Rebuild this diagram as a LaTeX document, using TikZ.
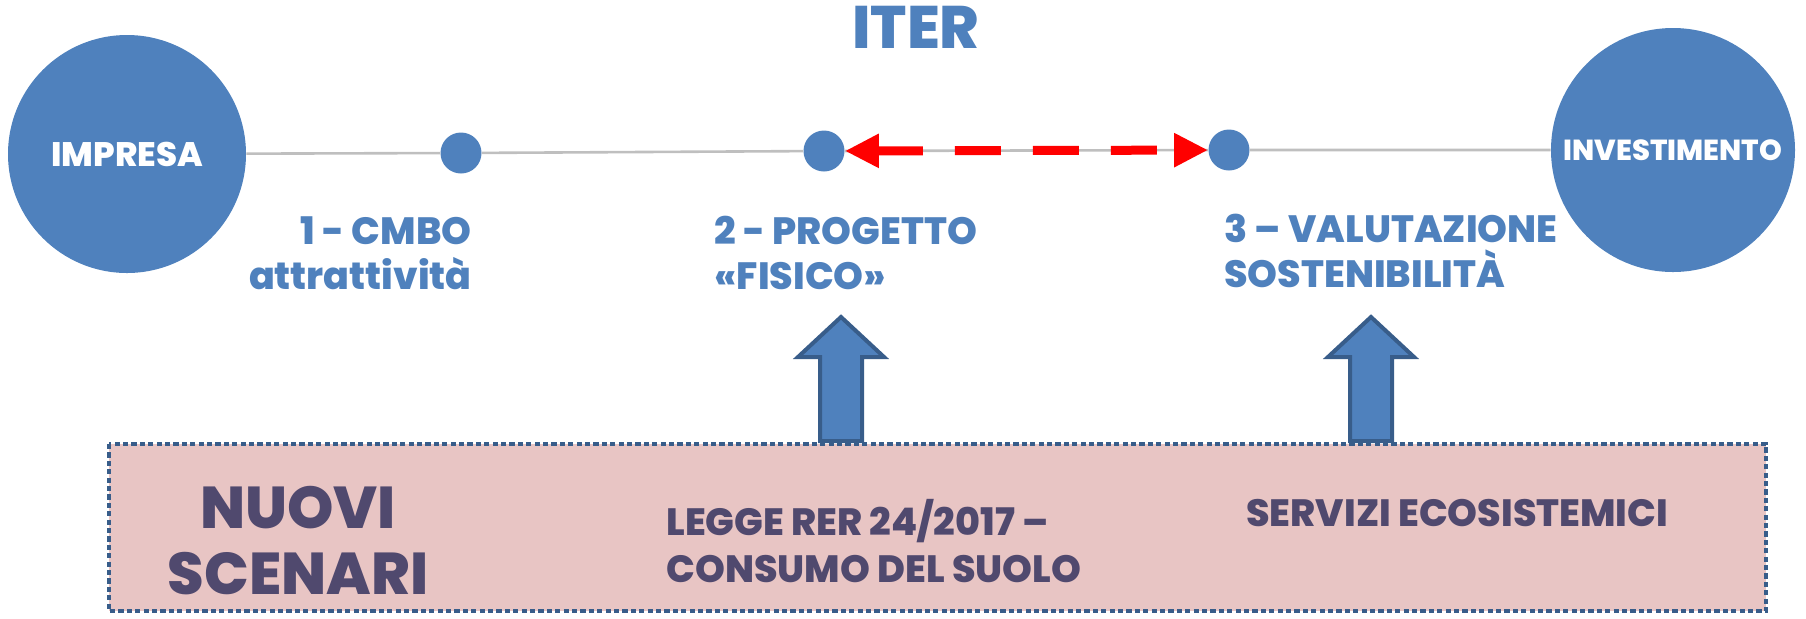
\documentclass[tikz,border=0pt]{standalone}
\usepackage{fontspec}
\setmainfont{Poppins}[BoldFont={* ExtraBold}]
\usetikzlibrary{arrows.meta}

\definecolor{iterblue}{RGB}{79,129,189}
\definecolor{arrowedge}{RGB}{56,93,138}
\definecolor{scenpink}{RGB}{232,197,196}
\definecolor{scentext}{RGB}{80,73,110}
\definecolor{linegrey}{RGB}{191,191,191}

\begin{document}
\begin{tikzpicture}[x=0.5pt,y=0.5pt,yscale=-1,
  bigdot/.style={circle,fill=iterblue,minimum size=118pt,inner sep=0pt,text=white},
  smalldot/.style={circle,fill=iterblue,minimum size=20.5pt,inner sep=0pt},
  steplabel/.style={text=iterblue,font=\bfseries\fontsize{19}{22.5}\selectfont,inner sep=0pt},
  scenlabel/.style={text=scentext,font=\bfseries\fontsize{19}{23.5}\selectfont,inner sep=0pt,align=left,anchor=north west},
  dasharrow/.style={red,line width=4.5pt,dash pattern=on 23pt off 16pt,{Triangle[length=17pt,width=16pt]}-{Triangle[length=17pt,width=16pt]}},
  blockarrow/.style={fill=iterblue,draw=arrowedge,line width=2pt,line join=miter}]
\useasboundingbox (0,0) rectangle (1806,618);

% title
\node (iter) [anchor=north,inner sep=0pt,text=iterblue,font=\bfseries\fontsize{30}{32}\selectfont] at (916,6) {ITER};

% ends of the path
\node (impresa) [bigdot,minimum size=119pt,font=\bfseries\fontsize{17}{19}\selectfont] at (127,154) {IMPRESA};
\node (investimento) [bigdot,minimum size=122pt,font=\bfseries\fontsize{14.5}{16}\selectfont] at (1673,150) {INVESTIMENTO};

% steps
\node (c1) [smalldot] at (461,153) {};
\node (c2) [smalldot] at (824,151) {};
\node (c3) [smalldot] at (1229,150) {};

% grey path
\draw [linegrey,line width=1.3pt] (impresa) -- (c1) -- (c2) -- (c3) -- (investimento);

% red double arrow
\draw [dasharrow] (c2) -- (c3);

% step labels
\node (l1) [steplabel,anchor=north east,align=right] at (472,216) {1 - CMBO\\attrattività};
\node (l2) [steplabel,anchor=north west,align=left] at (714,216) {2 - PROGETTO\\«FISICO»};
\node (l3) [steplabel,anchor=north west,align=left] at (1224,214) {3 – VALUTAZIONE\\SOSTENIBILITÀ};

% new scenarios box
\draw [fill=scenpink,draw=arrowedge,line width=1.8pt,dash pattern=on 2.6pt off 1.6pt] (109,444) rectangle (1766,611);

% block arrows
\foreach \ax in {841,1371}
  \draw [blockarrow] (\ax-21,441) -- (\ax-21,357) -- (\ax-43,357) -- (\ax,317) -- (\ax+43,357) -- (\ax+21,357) -- (\ax+21,441) -- cycle;

% texts in the box
\node (nuovi) [anchor=north,inner sep=0pt,align=center,text=scentext,font=\bfseries\fontsize{29.5}{33}\selectfont] at (298,486) {NUOVI\\SCENARI};
\node (legge) [scenlabel] at (666,499) {LEGGE RER 24/2017 –\\CONSUMO DEL SUOLO};
\node (servizi) [scenlabel] at (1246,499) {SERVIZI ECOSISTEMICI};

\end{tikzpicture}
\end{document}
